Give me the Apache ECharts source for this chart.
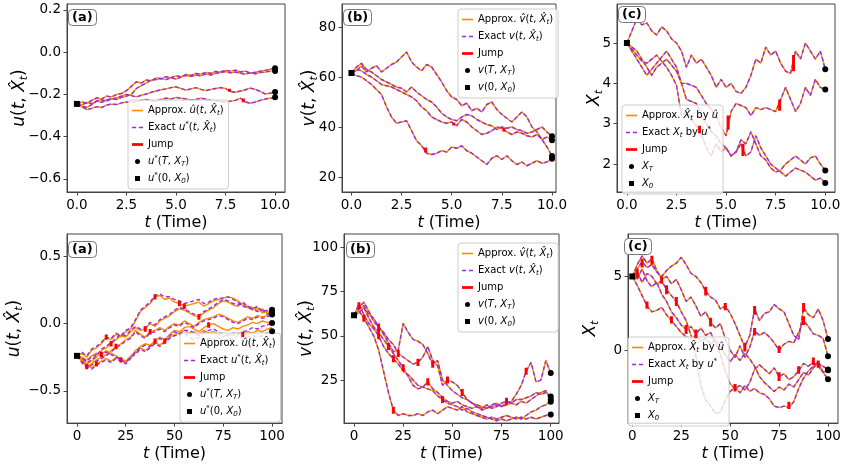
<!DOCTYPE html>
<html>
<head>
<meta charset="utf-8">
<script src="https://cdn.jsdelivr.net/npm/echarts@6.0.0/dist/echarts.min.js"></script>
<style>
html, body { margin: 0; padding: 0; background: #fff; }
#chart { width: 846px; height: 465px; }
</style>
</head>
<body>
<div id="chart"></div>
<script>
// time grids: top row 0..10 step 0.25, bottom row 0..100 step 2.5
var tTop = [];
for (var i = 0; i <= 40; i++) tTop.push(i * 0.25);
var tBot = [];
for (var i = 0; i <= 40; i++) tBot.push(i * 2.5);

// ---------- top row (T = 10) ----------
// (a) control u
var uTopStart = -0.245;
var uTop1 = [-0.245,-0.236,-0.242,-0.228,-0.216,-0.222,-0.208,-0.212,-0.200,-0.196,-0.182,-0.162,-0.140,-0.146,-0.132,-0.136,-0.122,-0.126,-0.116,-0.121,-0.112,-0.116,-0.106,-0.110,-0.101,-0.104,-0.096,-0.100,-0.091,-0.094,-0.086,-0.090,-0.085,-0.094,-0.090,-0.099,-0.095,-0.090,-0.086,-0.081,-0.076];
var uTop2 = [-0.245,-0.250,-0.238,-0.244,-0.230,-0.226,-0.232,-0.220,-0.224,-0.214,-0.208,-0.200,-0.172,-0.158,-0.146,-0.132,-0.130,-0.124,-0.130,-0.120,-0.128,-0.118,-0.110,-0.115,-0.108,-0.112,-0.104,-0.108,-0.100,-0.096,-0.092,-0.098,-0.094,-0.100,-0.104,-0.098,-0.102,-0.096,-0.094,-0.090,-0.089];
var uTop3 = [-0.245,-0.255,-0.262,-0.248,-0.232,-0.238,-0.226,-0.222,-0.216,-0.208,-0.200,-0.206,-0.212,-0.204,-0.198,-0.190,-0.184,-0.178,-0.174,-0.168,-0.164,-0.172,-0.180,-0.174,-0.168,-0.176,-0.182,-0.176,-0.172,-0.168,-0.172,-0.186,-0.190,-0.184,-0.178,-0.170,-0.176,-0.186,-0.198,-0.194,-0.189];
var uTop4 = [-0.245,-0.258,-0.272,-0.266,-0.258,-0.262,-0.250,-0.246,-0.248,-0.240,-0.236,-0.238,-0.234,-0.228,-0.224,-0.230,-0.232,-0.224,-0.218,-0.222,-0.214,-0.218,-0.222,-0.226,-0.224,-0.218,-0.222,-0.228,-0.230,-0.234,-0.236,-0.232,-0.228,-0.218,-0.236,-0.242,-0.236,-0.228,-0.222,-0.218,-0.214];
var uTopJumps = [[7.7,-0.173,-0.187],[8.4,-0.219,-0.237]];

// (b) value v
var vTopStart = 61.6;
var vTop1 = [61.6,62.5,64.5,62,63.5,64.5,62,63.5,65,66,68,70,66,64,62.5,65,64,61,58,54.5,52,51,48.5,49.5,46.5,47.5,46,49,50,47,45,43.5,42,44,46,44,40,38,35,32,28.4];
var vTop2 = [61.6,60.5,60,58.5,57,55,53,48,44,41.5,42,42.5,38.5,34.5,32.5,29.5,29,29.5,30.5,30,32,31.5,32.5,30.5,29.5,28,26.5,25,27.5,28.5,27,28.5,26.5,25,26,24.5,25.5,26.5,25.5,26,27.3];
var vTop3 = [61.6,63,62.5,61,60,58.5,57,56.5,56,55,54,53,52,50.5,48,46.5,44,43,42,41.5,42,40.5,43,42,40,38.5,37,37.5,38.5,40,39.5,38,37,38,37.5,36.5,36,37,35,36,34.7];
var vTop4 = [61.6,64,65.5,63,62,60.5,59,58,57,56,55.5,54,56,54,52.5,51,50,48,45.5,44,43,42.5,44,45,44.5,43,42,41,40.5,39,40,39.5,40,39,38.5,37.5,38,39,40,38,36.3];
var vTopJumps = [[3.7,31.8,29.8],[5.1,41.8,40.6],[7.6,39.6,38.2]];

// (c) state X
var xTopStart = 5;
var xTop1 = [5,5.3,5.6,5.45,5.5,5.3,5.2,5.4,5.3,5.1,5.0,4.8,4.4,4.7,4.5,4.6,4.4,4.2,3.9,4.1,3.9,4.0,3.8,3.75,3.9,4.2,4.6,4.5,4.9,4.7,4.8,4.5,4.3,4.25,4.8,4.6,5.0,4.8,4.6,4.8,4.35];
var xTop2 = [5,4.9,4.8,4.6,4.4,4.2,4.4,4.5,4.6,4.45,4.3,4.0,4.0,3.95,3.9,3.7,3.5,3.35,3.2,2.9,2.7,3.3,3.5,3.45,3.4,3.2,3.4,3.35,3.4,3.35,3.3,3.6,3.9,3.6,3.3,3.5,3.9,3.7,4.1,3.9,3.85];
var xTop3 = [5,4.85,4.7,4.55,4.5,4.6,4.7,4.55,4.4,4.2,3.95,3.2,3.3,3.1,2.95,2.75,2.4,2.2,2.5,2.3,2.4,2.2,2.3,2.6,2.5,2.8,2.5,2.2,2.1,1.9,1.8,1.85,2.0,2.1,2.2,2.1,2.0,2.15,2.2,2.0,1.84];
var xTop4 = [5,4.8,4.6,4.4,4.2,4.35,4.5,4.65,4.8,4.6,4.4,4.0,3.6,3.55,3.5,3.2,3.0,2.8,2.7,2.5,2.4,2.2,2.3,2.5,2.2,2.3,2.7,2.4,2.2,2.0,1.9,1.8,1.7,1.8,1.9,1.85,1.8,1.7,1.6,1.65,1.53];
var xTopJumps = [[3.66,2.95,2.76],[5.1,2.85,3.2],[5.85,2.5,2.2],[7.7,3.32,3.6],[8.4,4.3,4.7]];

// ---------- bottom row (T = 100) ----------
// (a) approx and exact u differ visibly here
var uBotStart = -0.24;
var uBot1 = [-0.24,-0.22,-0.25,-0.2,-0.18,-0.15,-0.1,-0.12,-0.08,-0.1,-0.06,-0.04,0.02,0.09,0.12,0.15,0.2,0.21,0.18,0.19,0.16,0.15,0.13,0.14,0.15,0.16,0.13,0.15,0.17,0.18,0.19,0.2,0.19,0.17,0.14,0.13,0.12,0.1,0.11,0.08,0.086];
var uBot2 = [-0.24,-0.26,-0.3,-0.28,-0.25,-0.2,-0.18,-0.15,-0.12,-0.09,-0.1,-0.06,-0.03,-0.05,-0.04,0.0,-0.02,0.02,0.04,0.06,0.09,0.11,0.1,0.08,0.06,0.05,0.08,0.1,0.12,0.15,0.17,0.16,0.14,0.13,0.15,0.12,0.1,0.12,0.08,0.09,0.10];
var uBot3 = [-0.24,-0.28,-0.32,-0.3,-0.27,-0.25,-0.23,-0.2,-0.17,-0.15,-0.12,-0.1,-0.05,-0.08,-0.1,-0.06,-0.05,-0.03,-0.05,-0.02,0.0,-0.01,0.02,0.0,-0.02,0.01,0.03,0.04,0.05,0.07,0.06,0.04,0.02,0.01,0.03,0.05,0.04,0.06,0.05,0.06,0.07];
var uBot4 = [-0.24,-0.27,-0.3,-0.33,-0.3,-0.28,-0.26,-0.28,-0.25,-0.27,-0.29,-0.25,-0.2,-0.17,-0.15,-0.16,-0.13,-0.1,-0.12,-0.08,-0.05,-0.06,-0.03,-0.02,-0.04,-0.06,-0.03,-0.01,0.0,-0.02,-0.04,-0.05,-0.03,-0.04,-0.02,-0.01,0.01,0.0,0.02,0.01,0.005];
var uBot5 = [-0.24,-0.25,-0.27,-0.24,-0.22,-0.23,-0.2,-0.22,-0.24,-0.26,-0.28,-0.24,-0.22,-0.18,-0.2,-0.17,-0.14,-0.16,-0.13,-0.1,-0.08,-0.07,-0.05,-0.07,-0.06,-0.08,-0.05,-0.07,-0.06,-0.08,-0.1,-0.08,-0.09,-0.07,-0.08,-0.06,-0.07,-0.05,-0.06,-0.04,-0.03];
var uBotEx1 = [-0.24,-0.21,-0.24,-0.19,-0.17,-0.14,-0.1,-0.11,-0.07,-0.09,-0.05,-0.03,0.03,0.1,0.13,0.16,0.21,0.22,0.2,0.2,0.18,0.17,0.15,0.16,0.17,0.18,0.15,0.16,0.18,0.19,0.19,0.2,0.18,0.16,0.13,0.12,0.11,0.09,0.1,0.07,0.086];
var uBotEx2 = [-0.24,-0.25,-0.29,-0.27,-0.24,-0.19,-0.17,-0.14,-0.11,-0.08,-0.09,-0.05,-0.02,-0.04,-0.03,0.01,-0.01,0.03,0.05,0.07,0.1,0.12,0.11,0.09,0.07,0.06,0.09,0.11,0.13,0.16,0.18,0.17,0.15,0.14,0.16,0.13,0.11,0.13,0.09,0.1,0.104];
var uBotEx3 = [-0.24,-0.29,-0.33,-0.31,-0.28,-0.26,-0.24,-0.21,-0.18,-0.16,-0.13,-0.11,-0.06,-0.09,-0.11,-0.07,-0.06,-0.04,-0.06,-0.03,-0.01,-0.02,0.01,-0.01,-0.03,0.0,0.02,0.03,0.04,0.06,0.05,0.03,0.01,0.0,0.02,0.04,0.03,0.05,0.04,0.05,0.069];
var uBotEx4 = [-0.24,-0.28,-0.31,-0.34,-0.31,-0.29,-0.27,-0.29,-0.26,-0.28,-0.3,-0.26,-0.21,-0.18,-0.16,-0.17,-0.14,-0.11,-0.13,-0.09,-0.06,-0.08,-0.05,-0.05,-0.07,-0.09,-0.07,-0.05,-0.04,-0.06,-0.08,-0.09,-0.07,-0.08,-0.06,-0.05,-0.03,-0.04,-0.02,-0.01,0.005];
var uBotEx5 = [-0.24,-0.26,-0.28,-0.25,-0.23,-0.24,-0.21,-0.23,-0.25,-0.27,-0.29,-0.25,-0.23,-0.19,-0.21,-0.18,-0.15,-0.17,-0.14,-0.11,-0.09,-0.08,-0.07,-0.1,-0.12,-0.1,-0.13,-0.11,-0.12,-0.1,-0.13,-0.11,-0.12,-0.09,-0.11,-0.1,-0.09,-0.1,-0.09,-0.07,-0.057];
var uBotJumps = [[15,-0.12,-0.08],[40,0.18,0.22],[52.5,0.13,0.17],[55,0.11,0.15],[17.5,-0.17,-0.13],[35,-0.06,-0.02],[62.5,0.03,0.07],[5,-0.34,-0.3],[20,-0.19,-0.15],[37.5,-0.08,-0.04],[10,-0.32,-0.28],[22.5,-0.29,-0.25],[40,-0.15,-0.11],[67.5,-0.03,0.01],[12.5,-0.25,-0.21],[45,-0.15,-0.11],[85,-0.1,-0.06]];

// (b) value v
var vBotStart = 61.6;
var vBot1 = [61.6,66,69,64,58,55,51,46,41,42,57,52,48,47,45,40,34,36,25,22,19,17,15,14,12,11,10,9,10,11,10,12,13,17,22,30,35,24,25,36,29];
var vBot2 = [61.6,65,67,62,60,55,52,48,45,40,38,36,34,35,38,44,36,33,22,25,24,22,18,14,12,10,9,11,9,10,12,13,12,14,14,15,16,18,17,18,15.7];
var vBot3 = [61.6,64,60,55,50,42,30,18,8,5,6,5,5,6,5,7,8,6,8,10,9,8,10,7,6,5,4,3,4,3,4,5,4,3,4,3,4,3,4,5,5.6];
var vBot4 = [61.6,68,62,57,54,50,44,40,37,34,30,28,25,22,21,20,19,16,14,12,11,10,8,9,7,6,5,4,3,2,3,2,3,4,3,5,7,8,10,11,12.8];
var vBot5 = [61.6,63,66,60,55,52,48,44,40,36,32,27,22,20,21,24,20,18,15,13,12,13,11,10,9,10,8,9,11,12,10,11,12,11,13,12,14,16,18,19,14];
var vBotJumps = [[2.5,65,69],[5,58,62],[12.5,52,57],[12.5,48,52],[17.5,42,46],[20,35,39],[22.5,38,42],[25,30,34],[20,6,10],[32.5,33,37],[37.5,22,26],[40,32,36],[45,12,16],[47.5,23,27],[55,16,20],[77.5,11,15],[87.5,28,32],[100,4,7]];

// (c) state X
var xBotStart = 5;
var xBot1 = [5,5.5,6.0,5.6,5.8,5.3,5.0,5.4,5.7,5.9,6.3,5.8,5.2,5.0,4.6,4.0,3.6,3.4,2.8,3.0,2.5,1.8,1.0,0.2,1.0,2.8,2.0,2.5,2.6,3.1,2.8,2.6,1.8,1.0,0.7,2.9,2.4,2.2,2.8,2.0,0.75];
var xBot2 = [5,5.8,6.4,5.9,6.2,5.4,4.8,5.0,4.5,4.8,4.1,3.3,3.6,3.0,2.3,2.6,1.9,1.5,1.8,0.8,0.0,-0.5,0.3,-0.5,0.2,1.3,1.0,1.2,0.9,0.5,0.0,0.4,0.6,0.5,1.2,2.0,1.6,1.1,1.0,0.8,-0.41];
var xBot3 = [5,5.3,4.6,5.2,5.0,4.5,4.7,4.1,3.7,3.3,2.6,2.0,1.0,-0.4,-2.4,-3.4,-3.8,-4.3,-4.2,-3.4,-2.8,-2.5,-2.9,-2.4,-2.8,-2.6,-2.9,-3.0,-3.3,-3.8,-3.9,-3.8,-3.9,-3.5,-2.6,-1.9,-1.4,-1.1,-0.8,-1.5,-1.98];
var xBot4 = [5,4.4,3.7,3.0,2.6,2.7,2.9,2.4,2.0,1.6,1.2,0.9,0.8,1.0,0.6,0.8,0.4,0.7,0.3,-0.3,-0.8,-0.3,-0.7,-0.2,-0.6,-1.1,-1.8,-2.2,-2.5,-2.8,-2.5,-2.7,-2.3,-2.5,-2.0,-1.5,-1.7,-1.2,-0.9,-1.1,-1.32];
var xBot5 = [5,4.8,5.5,4.7,4.3,4.6,3.8,3.3,2.6,2.2,1.7,1.4,1.6,1.1,1.5,1.0,1.2,0.5,-0.3,-1.4,-2.3,-2.6,-2.4,-2.7,-2.2,-1.3,-1.0,-1.3,-1.6,-1.2,-1.8,-1.6,-2.0,-1.8,-1.4,-0.9,-1.1,-0.8,-1.1,-1.5,-1.36];
var xBotJumps = [[5,5.6,6.2],[37.5,3.7,4.3],[47.5,2.7,3.2],[57.5,-0.1,0.5],[62.5,2.4,3.0],[87.5,2.6,3.2],[10,5.8,6.4],[15,4.5,5.0],[40,1.6,2.2],[62.5,1.0,1.5],[75,-0.2,0.3],[87.5,1.7,2.3],[2.5,4.9,5.5],[17.5,3.8,4.4],[22.5,3.0,3.6],[52.5,-2.8,-2.3],[80,-4.0,-3.5],[7.5,2.8,3.3],[20,1.8,2.3],[95,-1.2,-0.7],[27.5,1.1,1.7],[32.5,0.8,1.4],[75,-2.1,-1.5],[85,-1.6,-1.1],[92.5,-1.0,-0.5]];

// tick values
var xTicksTop = [0, 2.5, 5, 7.5, 10];
var xTicksBot = [0, 25, 50, 75, 100];

var FONT = 'DejaVu Sans';
var ORANGE = '#ff8c00';
var PURPLE = '#9a2fd6';
var FRAME = '#444';

// legend handles (line, dashed line, thick line, square)
var ICON_SOLID = 'path://M0,0h12v1.8h-12z';
var ICON_DASH = 'path://M0,0h4.5v1.8h-4.5zM7.5,0h4.5v1.8h-4.5z';
var ICON_JUMP = 'path://M0,0h12v3h-12z';
var ICON_SQ = 'path://M0,0h6v6h-6z';

var legendText = {
  u_apx: 'Approx. {i|\u00fb}({i|t}, {i|X\u0302}{s|t})',
  u_ex: 'Exact {i|u}{p|*}({i|t}, {i|X\u0302}{s|t})',
  u_end: '{i|u}{p|*}({i|T}, {i|X}{s|T})',
  u_start: '{i|u}{p|*}(0, {i|X}{s|0})',
  v_apx: 'Approx. {i|v\u0302}({i|t}, {i|X\u0302}{s|t})',
  v_ex: 'Exact {i|v}({i|t}, {i|X\u0302}{s|t})',
  v_end: '{i|v}({i|T}, {i|X}{s|T})',
  v_start: '{i|v}(0, {i|X}{s|0})',
  x_apx: 'Approx. {i|X\u0302}{s|t} by {i|\u00fb}',
  x_ex: 'Exact {i|X}{s|t} by {i|u}{p|*}',
  x_end: '{i|X}{s|T}',
  x_start: '{i|X}{s|0}',
  jump: 'Jump'
};

var yNames = {
  u: '{i|u}(' + '{i|t}, {i|X\u0302}{s|t})',
  v: '{i|v}({i|t}, {i|X\u0302}{s|t})',
  x: '{i|X}{s|t}'
};

var panels = [
  { key: 'u', tag: '(a)', grid: [67, 4, 218, 188], xr: [-0.5, 10.5], xt: xTicksTop, xd: 1,
    yr: [-0.662, 0.228], yt: [-0.6, -0.4, -0.2, 0, 0.2], yd: 1, yGap: 37,
    t: tTop, apx: [uTop1, uTop2, uTop3, uTop4], ex: null, jumps: uTopJumps, start: uTopStart,
    leg: [128, 100], tagPos: [68, 9] },
  { key: 'v', tag: '(b)', grid: [342, 4, 214, 188], xr: [-0.47, 10.2], xt: xTicksTop, xd: 1,
    yr: [14, 89.2], yt: [20, 40, 60, 80], yd: 0, yGap: 22,
    t: tTop, apx: [vTop1, vTop2, vTop3, vTop4], ex: null, jumps: vTopJumps, start: vTopStart,
    leg: [458, 9], tagPos: [343, 9] },
  { key: 'x', tag: '(c)', grid: [617, 4, 218, 188], xr: [-0.5, 10.49], xt: xTicksTop, xd: 1,
    yr: [1.306, 5.967], yt: [2, 3, 4, 5], yd: 0, yGap: 12,
    t: tTop, apx: [xTop1, xTop2, xTop3, xTop4], ex: null, jumps: xTopJumps, start: xTopStart,
    leg: [622, 105], tagPos: [618, 6] },
  { key: 'u', tag: '(a)', grid: [67, 234, 215, 190], xr: [-5.1, 105.1], xt: xTicksBot, xd: 0,
    yr: [-0.741, 0.668], yt: [-0.5, 0, 0.5], yd: 1, yGap: 42,
    t: tBot, apx: [uBot1, uBot2, uBot3, uBot4, uBot5], ex: [uBotEx1, uBotEx2, uBotEx3, uBotEx4, uBotEx5],
    jumps: uBotJumps, start: uBotStart, leg: [180, 333], tagPos: [68, 241] },
  { key: 'v', tag: '(b)', grid: [344, 234, 215, 190], xr: [-5.1, 104.2], xt: xTicksBot, xd: 0,
    yr: [0.7, 107.5], yt: [25, 50, 75, 100], yd: 0, yGap: 27,
    t: tBot, apx: [vBot1, vBot2, vBot3, vBot4, vBot5], ex: null, jumps: vBotJumps, start: vBotStart,
    leg: [458, 243], tagPos: [346, 241] },
  { key: 'x', tag: '(c)', grid: [628, 234, 210, 190], xr: [-2.2, 105.1], xt: xTicksBot, xd: 0,
    yr: [-4.95, 7.88], yt: [-5, 0, 5], yd: 0, yGap: 27,
    t: tBot, apx: [xBot1, xBot2, xBot3, xBot4, xBot5], ex: null, jumps: xBotJumps, start: xBotStart,
    leg: [628, 337], tagPos: [624, 238] }
];

function fmt(v, d) {
  return v.toFixed(d).replace('-', '\u2212');
}

var nameRich = {
  i: { fontFamily: FONT, fontStyle: 'italic', fontSize: 17, lineHeight: 21, color: '#000' },
  s: { fontFamily: FONT, fontStyle: 'italic', fontSize: 11, lineHeight: 14, verticalAlign: 'bottom', color: '#000' }
};
var xNameRich = {
  i: { fontFamily: FONT, fontStyle: 'italic', fontSize: 16, lineHeight: 20, color: '#000' }
};
var legendRich = {
  i: { fontFamily: FONT, fontStyle: 'italic', fontSize: 10, lineHeight: 13, color: '#000' },
  s: { fontFamily: FONT, fontStyle: 'italic', fontSize: 7, lineHeight: 9, verticalAlign: 'bottom', color: '#000' },
  p: { fontFamily: FONT, fontSize: 7, lineHeight: 9, verticalAlign: 'top', color: '#000' }
};

var grids = [], xAxes = [], yAxes = [], legends = [], titles = [], series = [];

panels.forEach(function (p, k) {
  grids.push({ left: p.grid[0], top: p.grid[1], width: p.grid[2], height: p.grid[3],
    show: true, borderColor: FRAME, borderWidth: 1, backgroundColor: 'transparent' });

  xAxes.push({
    type: 'value', gridIndex: k, min: p.xr[0], max: p.xr[1],
    axisLine: { show: true, onZero: false, lineStyle: { color: FRAME, width: 1 } },
    axisTick: { show: true, inside: false, length: 3.5, customValues: p.xt, lineStyle: { color: FRAME } },
    axisLabel: { customValues: p.xt, margin: 6, fontFamily: FONT, fontSize: 13.5, color: '#000',
      formatter: (function (d) { return function (v) { return fmt(v, d); }; })(p.xd) },
    splitLine: { show: false },
    name: '{i|t} (Time)', nameLocation: 'middle', nameGap: 16,
    nameTextStyle: { fontFamily: FONT, fontSize: 16, lineHeight: 20, color: '#000', rich: xNameRich }
  });

  yAxes.push({
    type: 'value', gridIndex: k, min: p.yr[0], max: p.yr[1],
    axisLine: { show: true, onZero: false, lineStyle: { color: FRAME, width: 1 } },
    axisTick: { show: true, inside: false, length: 3.5, customValues: p.yt, lineStyle: { color: FRAME } },
    axisLabel: { customValues: p.yt, margin: 6, fontFamily: FONT, fontSize: 13.5, color: '#000',
      formatter: (function (d) { return function (v) { return fmt(v, d); }; })(p.yd) },
    splitLine: { show: false },
    name: yNames[p.key], nameLocation: 'middle', nameGap: p.yGap, nameRotate: 90,
    nameMoveOverlap: false,
    nameTextStyle: { fontFamily: FONT, fontSize: 17, lineHeight: 21, color: '#000', rich: nameRich }
  });

  titles.push({
    text: p.tag, left: p.tagPos[0], top: p.tagPos[1], padding: [2, 4, 2, 4],
    borderColor: '#777', borderWidth: 1, borderRadius: 4, backgroundColor: '#fff',
    textStyle: { fontFamily: FONT, fontWeight: 'bold', fontSize: 13, color: '#000' }
  });

  // approx paths (orange, solid) under exact paths (purple, dashed)
  p.apx.forEach(function (vals) {
    series.push({
      type: 'line', name: p.key + '_apx', xAxisIndex: k, yAxisIndex: k,
      data: p.t.map(function (t, i) { return [t, vals[i]]; }),
      symbol: 'none', showSymbol: false, silent: true, z: 2,
      lineStyle: { color: ORANGE, width: 1.4 }, itemStyle: { color: ORANGE }
    });
  });
  var exact = p.ex || p.apx;
  exact.forEach(function (vals) {
    series.push({
      type: 'line', name: p.key + '_ex', xAxisIndex: k, yAxisIndex: k,
      data: p.t.map(function (t, i) { return [t, vals[i]]; }),
      symbol: 'none', showSymbol: false, silent: true, z: 3,
      lineStyle: { color: PURPLE, width: 1.4, type: [4, 2.5] }, itemStyle: { color: PURPLE }
    });
  });
  // jumps: short vertical red segments
  p.jumps.forEach(function (j) {
    series.push({
      type: 'line', name: 'jump', xAxisIndex: k, yAxisIndex: k,
      data: [[j[0], j[1]], [j[0], j[2]]],
      symbol: 'none', showSymbol: false, silent: true, z: 4,
      lineStyle: { color: '#ff0000', width: 3 }, itemStyle: { color: '#ff0000' }
    });
  });
  // terminal dots
  series.push({
    type: 'scatter', name: p.key + '_end', xAxisIndex: k, yAxisIndex: k,
    data: exact.map(function (vals) { return [p.t[p.t.length - 1], vals[vals.length - 1]]; }),
    symbol: 'circle', symbolSize: 6, silent: true, z: 6, itemStyle: { color: '#000', opacity: 1 }
  });
  // start square
  series.push({
    type: 'scatter', name: p.key + '_start', xAxisIndex: k, yAxisIndex: k,
    data: [[0, p.start]],
    symbol: 'rect', symbolSize: 6, silent: true, z: 6, itemStyle: { color: '#000', opacity: 1 }
  });

  legends.push({
    left: p.leg[0], top: p.leg[1], orient: 'vertical',
    data: [
      { name: p.key + '_apx', icon: ICON_SOLID },
      { name: p.key + '_ex', icon: ICON_DASH },
      { name: 'jump', icon: ICON_JUMP },
      { name: p.key + '_end', icon: 'circle' },
      { name: p.key + '_start', icon: ICON_SQ }
    ],
    itemWidth: 11, itemHeight: 5, itemGap: 4, padding: [4, 5, 4, 4],
    itemStyle: { borderWidth: 0, opacity: 1 },
    backgroundColor: 'rgba(255,255,255,0.8)', borderColor: '#ccc', borderWidth: 1, borderRadius: 3,
    selectedMode: false,
    formatter: function (name) { return legendText[name]; },
    textStyle: { fontFamily: FONT, fontSize: 10, lineHeight: 13, color: '#000', rich: legendRich }
  });
});

var chart = echarts.init(document.getElementById('chart'), null, { renderer: 'canvas' });
chart.setOption({
  animation: false,
  backgroundColor: '#fff',
  title: titles,
  grid: grids,
  xAxis: xAxes,
  yAxis: yAxes,
  legend: legends,
  series: series
});
</script>
</body>
</html>
